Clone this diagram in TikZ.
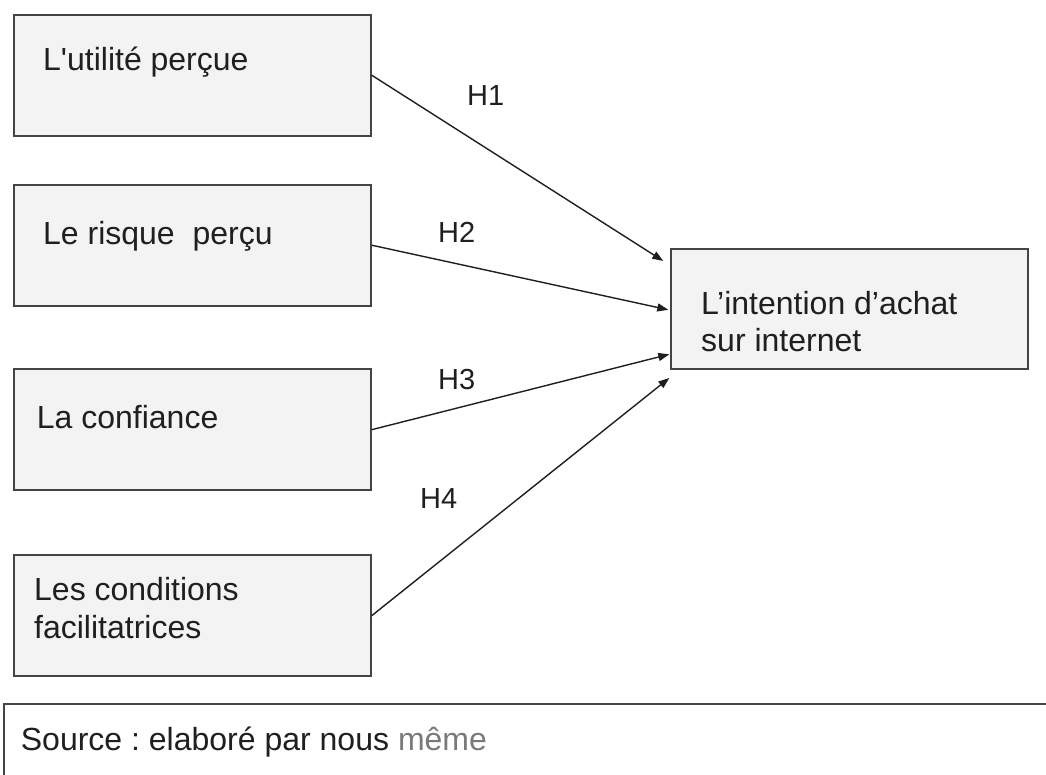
\documentclass[tikz,border=0pt]{standalone}
\usepackage{fontspec}
\setmainfont{Liberation Sans}
\usetikzlibrary{arrows.meta,calc}

\definecolor{boxfill}{HTML}{F3F3F3}
\definecolor{boxline}{HTML}{444444}
\definecolor{ink}{HTML}{1F1F1F}
\definecolor{soft}{HTML}{7A7A7A}

\tikzset{
  factor/.style={draw=boxline, fill=boxfill, line width=2pt, rectangle,
    minimum width=357pt, minimum height=121pt, inner sep=0pt, anchor=north west},
  txt/.style={anchor=base west, inner sep=0pt, text=ink,
    font=\fontsize{32}{37.5}\selectfont, align=left},
  hyp/.style={anchor=base west, inner sep=0pt, text=ink,
    font=\fontsize{29}{34}\selectfont},
  link/.style={draw=ink, line width=1.4pt,
    -{Triangle[length=11pt,width=8pt]}},
}

\begin{document}
\frenchspacing
\begin{tikzpicture}[x=1pt,y=-1pt]
\useasboundingbox (0,0) rectangle (1046,775);
\fill[white] (0,0) rectangle (1046,775);

% factor boxes on the left
\node[factor] (f1) at (12.7,13.7) {};
\node[factor] (f2) at (12.7,183.7) {};
\node[factor] (f3) at (12.7,368.2) {};
\node[factor] (f4) at (12.7,554.2) {};

% box texts (multi-line nodes sit on the baseline of their last line)
\node[txt] (t1) at (43,71) {L\textquotesingle utilité perçue};
\node[txt] (t2) at (43,244.3) {Le risque\ \ perçu};
\node[txt] (t3) at (36.7,428.7) {La confiance};
\node[txt] (t4) at (34,638.3) {Les conditions\\facilitatrices};

% outcome box
\node[factor, minimum height=119.4pt] (tgt) at (670,248.3) {};
\node[txt] (tt) at (701,351.7) {L’intention d’achat\\sur internet};

% arrow end points along the outcome box
\coordinate (e1) at ($(tgt.north west)+(-6.7,12.7)$);
\coordinate (e2) at ($(tgt.west)+(-1.7,0.8)$);
\coordinate (e3) at ($(tgt.south west)+(-0.7,-15.4)$);
\coordinate (e4) at ($(tgt.south west)+(-0.7,8.3)$);

\draw[link] (f1.east) -- (e1);
\draw[link] (f2.east) -- (e2);
\draw[link] (f3.east) -- (e3);
\draw[link] (f4.east) -- (e4);

% hypothesis labels
\node[hyp] (h1) at (467,105.7) {H1};
\node[hyp] (h2) at (438,242.7) {H2};
\node[hyp] (h3) at (438,389.3) {H3};
\node[hyp] (h4) at (420,508.3) {H4};

% source frame running off the page
\node[draw=boxline, fill=white, line width=2pt, rectangle, inner sep=0pt,
  minimum width=1070pt, minimum height=100pt, anchor=north west] (src) at (3.3,702.7) {};
\node[txt] (srct) at (20.7,750) {Source : elaboré par nous \textcolor{soft}{même}};
\end{tikzpicture}
\end{document}
